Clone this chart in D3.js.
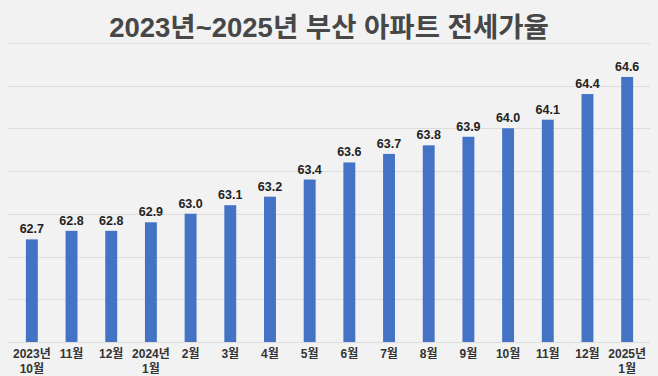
<!DOCTYPE html>
<html><head><meta charset="utf-8">
<script src="https://cdn.jsdelivr.net/npm/d3@7"></script>
<style>html,body{margin:0;padding:0;background:#f2f2f2;}svg{display:block;}</style>
</head><body><svg id="c" width="658" height="376"></svg>
<script>
const titleText = "2023년~2025년 부산 아파트 전세가율";
const categories = ["2023년\n10월","11월","12월","2024년\n1월","2월","3월","4월","5월","6월","7월","8월","9월","10월","11월","12월","2025년\n1월"];
const values = [62.7,62.8,62.8,62.9,63.0,63.1,63.2,63.4,63.6,63.7,63.8,63.9,64.0,64.1,64.4,64.6];
const gridTicks = [61.5,62.0,62.5,63.0,63.5,64.0,64.5,65.0];

const W = 658, H = 376;
const svg = d3.select("#c");
svg.append("rect").attr("width",W).attr("height",H).attr("fill","#f2f2f2");
const font = "'Liberation Sans','Noto Sans CJK KR',sans-serif";

svg.append("text").attr("x",329).attr("y",36.5).attr("text-anchor","middle")
  .attr("font-family",font).attr("font-weight","bold").attr("font-size",27.5)
  .attr("fill","#474747").text(titleText);

const x = d3.scaleBand().domain(d3.range(categories.length)).range([12,647]).paddingInner(0.7).paddingOuter(0.35);
const y = d3.scaleLinear().domain([61.5,65.0]).range([342,42.75]);

svg.append("g").selectAll("line").data(gridTicks).join("line")
  .attr("x1",8).attr("x2",650).attr("y1",d=>Math.round(y(d))+0.5).attr("y2",d=>Math.round(y(d))+0.5)
  .attr("stroke","#dcdcdc").attr("stroke-width",1);

svg.append("g").selectAll("rect").data(values).join("rect")
  .attr("x",(d,i)=>x(i)).attr("width",x.bandwidth())
  .attr("y",d=>y(d)).attr("height",d=>y(61.5)-y(d))
  .attr("fill","#4472c4");

svg.append("g").selectAll("text").data(values).join("text")
  .attr("x",(d,i)=>x(i)+x.bandwidth()/2).attr("y",d=>y(d)-6)
  .attr("text-anchor","middle").attr("font-family",font).attr("font-weight","bold")
  .attr("font-size",12.5).attr("fill","#222").text(d=>d.toFixed(1));

const xl = svg.append("g").selectAll("text").data(categories).join("text")
  .attr("x",(d,i)=>x(i)+x.bandwidth()/2).attr("y",358)
  .attr("text-anchor","middle").attr("font-family",font).attr("font-weight","bold")
  .attr("font-size",12).attr("fill","#333");
xl.each(function(d){
  const t = d3.select(this);
  d.split("\n").forEach((s,k)=>{
    t.append("tspan").attr("x",t.attr("x")).attr("dy",k===0?0:15).text(s);
  });
});
</script></body></html>
